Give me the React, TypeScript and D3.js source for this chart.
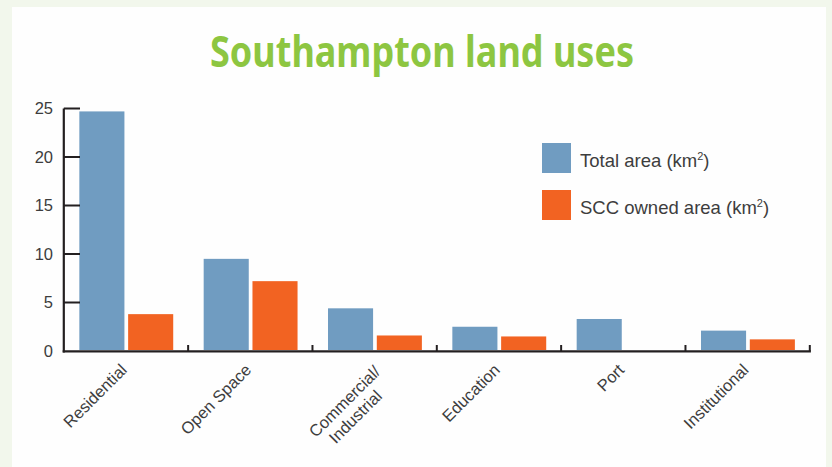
import React, { useEffect, useRef } from "react";
import * as d3 from "d3";

// land use categories, each label split into its lines
const categories = ["Residential", "Open Space", "Commercial/Industrial", "Education", "Port", "Institutional"];
const categoryLines = [["Residential"], ["Open Space"], ["Commercial/", "Industrial"], ["Education"], ["Port"], ["Institutional"]];

// km2
const totalArea = [24.7, 9.5, 4.4, 2.5, 3.3, 2.1];
const sccOwnedArea = [3.8, 7.2, 1.6, 1.5, 0, 1.2];

const seriesNames = ["Total area", "SCC owned area"];
const seriesColors = ["#709cc1", "#f26322"];
const yTicks = [0, 5, 10, 15, 20, 25];

const W = 832;
const H = 467;
const FONT = "'Liberation Sans', Arial, sans-serif";

const App = () => {
  const ref: any = useRef();

  useEffect(() => {
    const svg = d3.select(ref.current);
    svg.selectAll("*").remove();

    // page background + white panel
    svg.append("rect").attr("width", W).attr("height", H).attr("fill", "#f2f7ec");
    svg.append("rect").attr("x", 12).attr("y", 7).attr("width", 814).attr("height", H).attr("fill", "#fefefe");

    svg
      .append("text")
      .attr("x", 422)
      .attr("y", 67)
      .attr("text-anchor", "middle")
      .attr("font-family", "'Noto Sans', 'Open Sans', sans-serif")
      .attr("font-weight", 700)
      .attr("font-size", 43)
      .attr("fill", "#8dc641")
      .attr("textLength", 424)
      .attr("lengthAdjust", "spacingAndGlyphs")
      .text("Southampton land uses");

    const x0 = d3.scaleBand().domain(categories).range([63.8, 809.8]);
    const x1 = d3
      .scaleBand()
      .domain(seriesNames)
      .range([x0.bandwidth() * 0.125, x0.bandwidth() * 0.88])
      .paddingInner(0.076);
    const y = d3.scaleLinear().domain([0, 25]).range([351, 108.5]);

    const rows = categories.map((c, i) => ({ c, vals: [totalArea[i], sccOwnedArea[i]] }));

    // bars
    const groups = svg
      .append("g")
      .selectAll("g")
      .data(rows)
      .join("g")
      .attr("transform", (d) => `translate(${x0(d.c)},0)`);

    groups
      .selectAll("rect")
      .data((d) => d.vals.map((v, k) => ({ v, k })))
      .join("rect")
      .attr("x", (d) => x1(seriesNames[d.k]) as number)
      .attr("width", x1.bandwidth())
      .attr("y", (d) => y(d.v))
      .attr("height", (d) => Math.max(0, y(0) - 1 - y(d.v)))
      .attr("fill", (d) => seriesColors[d.k]);

    const axisColor = "#231f20";
    const textColor = "#3d3d3d";

    // y axis with inward ticks
    const yAxis = svg.append("g");
    yAxis
      .append("line")
      .attr("x1", 63.8)
      .attr("x2", 63.8)
      .attr("y1", y(25))
      .attr("y2", y(0) + 1.5)
      .attr("stroke", axisColor)
      .attr("stroke-width", 2.2);
    yAxis
      .selectAll(".tick")
      .data(yTicks.filter((t) => t > 0))
      .join("line")
      .attr("x1", 63.8)
      .attr("x2", 80)
      .attr("y1", (d) => y(d))
      .attr("y2", (d) => y(d))
      .attr("stroke", axisColor)
      .attr("stroke-width", 2);
    yAxis
      .selectAll("text")
      .data(yTicks)
      .join("text")
      .attr("x", 53)
      .attr("y", (d) => y(d))
      .attr("dy", "0.36em")
      .attr("text-anchor", "end")
      .attr("font-family", FONT)
      .attr("font-size", 16.5)
      .attr("fill", textColor)
      .text((d) => d);

    // x axis
    const xAxis = svg.append("g");
    xAxis
      .append("line")
      .attr("x1", 62.7)
      .attr("x2", 810.9)
      .attr("y1", y(0) + 0.4)
      .attr("y2", y(0) + 0.4)
      .attr("stroke", axisColor)
      .attr("stroke-width", 2.2);
    xAxis
      .selectAll(".tick")
      .data(categories)
      .join("line")
      .attr("x1", (d) => (x0(d) as number) + x0.bandwidth())
      .attr("x2", (d) => (x0(d) as number) + x0.bandwidth())
      .attr("y1", y(0))
      .attr("y2", y(0) - 6)
      .attr("stroke", axisColor)
      .attr("stroke-width", 2);

    const labels = xAxis
      .selectAll("g.lbl")
      .data(categoryLines)
      .join("g")
      .attr("class", "lbl")
      .attr(
        "transform",
        (d, i) => `translate(${(x0(categories[i]) as number) + x0.bandwidth() / 2 + 2},371) rotate(-45)`
      );
    labels
      .selectAll("text")
      .data((d) => d.map((s, j) => ({ s, j, n: d.length })))
      .join("text")
      .attr("x", (d) => (d.n > 1 ? (d.j === 0 ? 2 : -14) : 0))
      .attr("y", (d) => (d.n > 1 ? 4.6 + d.j * 18.4 : 0))
      .attr("text-anchor", "end")
      .attr("font-family", FONT)
      .attr("font-size", 16.5)
      .attr("fill", textColor)
      .text((d) => d.s);

    // legend
    const legend = svg
      .append("g")
      .selectAll("g")
      .data(seriesNames)
      .join("g")
      .attr("transform", (d, i) => `translate(542,${143 + i * 47})`);
    legend
      .append("rect")
      .attr("width", 29)
      .attr("height", 30)
      .attr("fill", (d, i) => seriesColors[i]);
    const lt = legend
      .append("text")
      .attr("x", 38)
      .attr("y", 24)
      .attr("font-family", FONT)
      .attr("font-size", 18.5)
      .attr("fill", textColor);
    lt.append("tspan").text((d) => `${d} (km`);
    lt.append("tspan").attr("font-size", 11).attr("dy", -7).text("2");
    lt.append("tspan").attr("dy", 7).text(")");
  }, []);

  return (
    <svg
      ref={ref}
      width={W}
      height={H}
      style={{ position: "absolute", left: 0, top: 0, display: "block" }}
    ></svg>
  );
};

export default App;
